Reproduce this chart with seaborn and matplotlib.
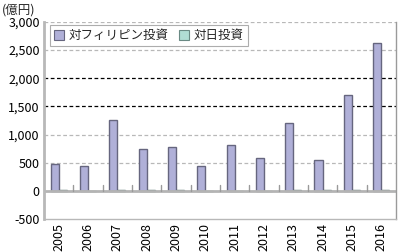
import matplotlib
matplotlib.use("Agg")
import matplotlib.pyplot as plt
import seaborn as sns
import pandas as pd
from matplotlib.patches import Patch

years = ["2005", "2006", "2007", "2008", "2009", "2010", "2011", "2012", "2013", "2014", "2015", "2016"]
to_philippines = [475, 435, 1255, 745, 785, 445, 820, 590, 1205, 555, 1705, 2625]
to_japan = [8, 5, 8, 6, 6, 4, 5, 4, 8, 12, 8, 8]
series_names = ["対フィリピン投資", "対日投資"]
yticks = [-500, 0, 500, 1000, 1500, 2000, 2500, 3000]
ytick_labels = ["-500", "0", "500", "1,000", "1,500", "2,000", "2,500", "3,000"]
unit_label = "(億円)"

sns.set_theme(style="white")
plt.rcParams['font.family'] = ['Noto Sans CJK JP', 'DejaVu Sans']

df = pd.DataFrame({
    "year": years * 2,
    "value": to_philippines + to_japan,
    "series": [series_names[0]] * len(years) + [series_names[1]] * len(years),
})

colors = ["#b0b0d8", "#b0ddd4"]
edges = ["#66667f", "#4d6b66"]

fig = plt.figure(figsize=(3.98, 2.52), dpi=100)
ax = fig.add_axes([0.1106, 0.131, 0.884, 0.782])

sns.barplot(data=df, x="year", y="value", hue="series", palette=colors,
            width=0.55, ax=ax, legend=False, saturation=1, linewidth=1)
for i, bar in enumerate(ax.patches):
    s = i // len(years)
    if s < 2:
        bar.set_edgecolor(edges[s])

ax.set_ylim(-500, 3000)
ax.set_xlim(-0.5, len(years) - 0.5)
ax.set_yticks(yticks)
ax.set_yticklabels(ytick_labels, fontsize=9, color="black")
ax.set_xticks(range(len(years)))
ax.set_xticklabels(years, rotation=90, fontsize=9, color="black")
ax.tick_params(axis="both", length=0, pad=3)
ax.set_xlabel("")
ax.set_ylabel("")

# gridlines
for v in [500, 1000, 2500, 3000]:
    ax.axhline(v, color="#b8b8b8", lw=0.9, ls=(0, (3, 2)), zorder=0)
for v in [1500, 2000]:
    ax.axhline(v, color="black", lw=0.9, ls=(0, (3, 2)), zorder=0)
ax.axhline(0, color="#b4b4b4", lw=2, zorder=1)

# category boundary ticks on zero line
for b in range(1, len(years)):
    ax.plot([b - 0.5, b - 0.5], [0, 110], color="#9a9a9a", lw=1, zorder=1)

ax.spines["top"].set_visible(False)
ax.spines["left"].set_color("#b8b8b8")
ax.spines["left"].set_linewidth(2)
ax.spines["right"].set_color("#9a9a9a")
ax.spines["right"].set_linewidth(1)
ax.spines["bottom"].set_color("#b8b8b8")
ax.spines["bottom"].set_linewidth(1)

handles = [Patch(facecolor=colors[i], edgecolor=edges[i] if i == 0 else "#6a8a84", lw=0.8)
           for i in range(2)]
leg = ax.legend(handles, series_names, loc="upper left", bbox_to_anchor=(0.01, 0.995),
                ncol=2, fontsize=9, frameon=True, fancybox=False,
                handlelength=0.8, handleheight=0.8, handletextpad=0.4,
                columnspacing=0.8, borderpad=0.3, borderaxespad=0.2)
leg.get_frame().set_edgecolor("#999999")
leg.get_frame().set_linewidth(0.8)

fig.text(0.005, 0.985, unit_label, fontsize=9, va="top", ha="left")

fig.savefig("out.png", dpi=100)
